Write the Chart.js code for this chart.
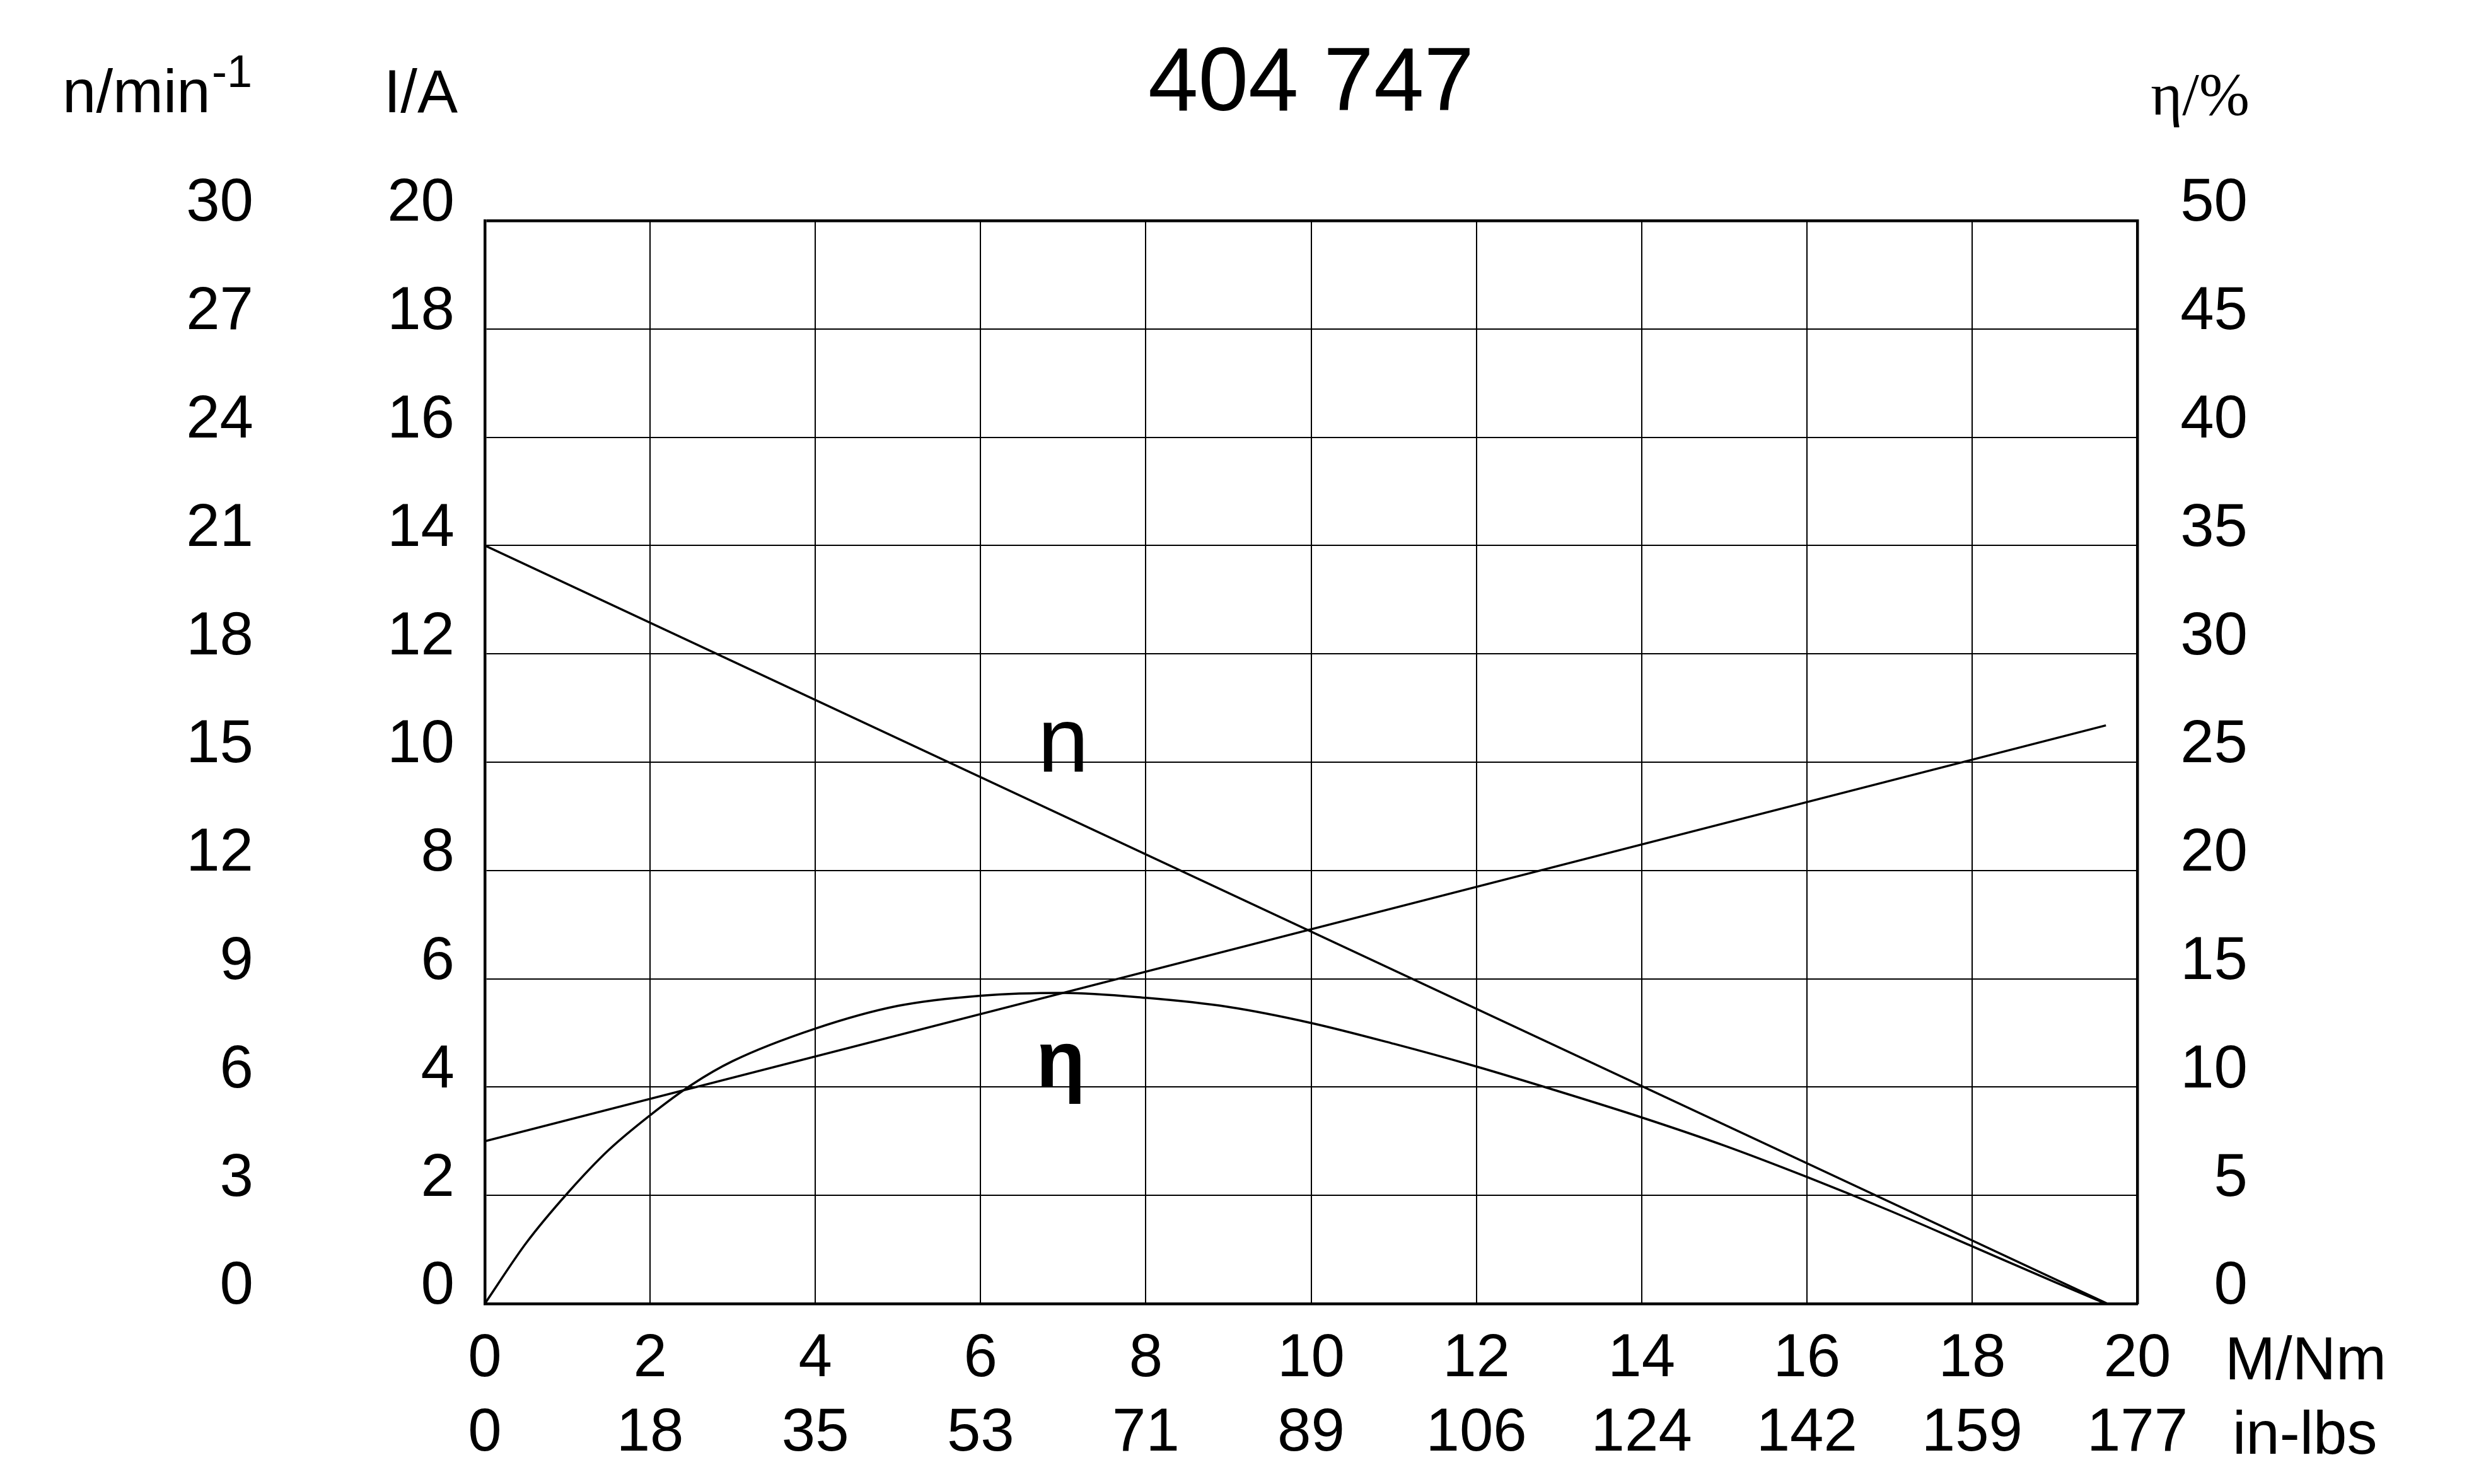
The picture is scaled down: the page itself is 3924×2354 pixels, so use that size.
<!DOCTYPE html>
<html>
<head>
<meta charset="utf-8">
<script src="https://cdn.jsdelivr.net/npm/chart.js@4.4.1/dist/chart.umd.min.js"></script>
<style>
  html, body { margin: 0; padding: 0; background: #fff; }
  #wrap { width: 3924px; height: 2354px; }
</style>
</head>
<body>
<div id="wrap"><canvas id="motor"></canvas></div>
<script>
// torque in Nm
var speedTorque = [0, 19.64];
var speed = [21, 0];                 // n/min-1
var currentTorque = [0, 19.62];
var current = [3.0, 10.68];          // I/A
var etaTorque = [0, 0.5, 1, 1.5, 2, 2.5, 3, 4, 5, 6, 7, 8, 9, 10, 11, 12, 13, 14, 15, 16, 17, 18, 19, 19.62];
var eta = [0, 2.8, 5.1, 7.1, 8.7, 10.1, 11.2, 12.7, 13.75, 14.22, 14.35, 14.12, 13.7, 12.96, 12.0, 10.95, 9.8, 8.6, 7.3, 5.85, 4.3, 2.65, 1.0, 0];
var nmTicks = ['0', '2', '4', '6', '8', '10', '12', '14', '16', '18', '20'];
var inLbsTicks = ['0', '18', '35', '53', '71', '89', '106', '124', '142', '159', '177'];

function pts(xs, ys) {
    return xs.map(function (v, i) { return { x: v, y: ys[i] }; });
}

var FONT = "'Liberation Sans', Arial, sans-serif";
Chart.defaults.font.family = FONT;
Chart.defaults.color = '#000';

var labelsPlugin = {
    id: 'labels',
    afterDraw: function (chart) {
        var c = chart.ctx;
        var x = chart.scales.x, yI = chart.scales.yI;
        c.save();
        c.fillStyle = '#000';
        c.textBaseline = 'alphabetic';
        c.font = '96px ' + FONT;
        c.textAlign = 'left';
        c.fillText('n/min', 99, 178);
        c.font = '72px ' + FONT;
        c.fillText('-1', 336, 138);
        c.font = '96px ' + FONT;
        c.textAlign = 'right';
        c.fillText('I/A', 726, 178);
        c.textAlign = 'left';
        c.fillText('M/Nm', 3529, 2188);
        c.fillText('in-lbs', 3541, 2306);
        c.font = "96px 'Liberation Serif', 'Times New Roman', serif";
        c.textAlign = 'right';
        c.fillText('η/%', 3568, 182);
        // curve names
        c.textAlign = 'center';
        c.font = '146px ' + FONT;
        c.fillText('n', x.getPixelForValue(7.0), yI.getPixelForValue(9.83));
        c.font = 'bold 128px ' + FONT;
        c.fillText('η', x.getPixelForValue(6.97), yI.getPixelForValue(4.0));
        c.restore();
    }
};

const ctx = document.getElementById('motor');
const motor = new Chart(ctx, {
    type: 'line',
    data: {
        datasets: [{
            label: 'n',
            data: pts(speedTorque, speed),
            yAxisID: 'yN',
            borderColor: '#000',
            borderWidth: 3.5,
            pointRadius: 0
        }, {
            label: 'I',
            data: pts(currentTorque, current),
            yAxisID: 'yI',
            borderColor: '#000',
            borderWidth: 3.5,
            pointRadius: 0
        }, {
            label: 'eta',
            data: pts(etaTorque, eta),
            yAxisID: 'yE',
            borderColor: '#000',
            borderWidth: 3.5,
            pointRadius: 0,
            cubicInterpolationMode: 'monotone'
        }]
    },
    options: {
        responsive: true,
        maintainAspectRatio: false,
        devicePixelRatio: 1,
        animation: false,
        layout: { padding: { left: 0, right: 359, top: 0, bottom: 0 } },
        plugins: {
            legend: { display: false },
            tooltip: { enabled: false },
            title: {
                display: true,
                text: '404 747',
                fullSize: false,
                color: '#000',
                font: { size: 143, weight: 'normal' },
                padding: { top: 50, bottom: 128.4 }
            }
        },
        scales: {
            x: {
                type: 'linear',
                position: 'bottom',
                weight: 0,
                min: 0, max: 20,
                afterFit: function (s) { s.height = 118; },
                ticks: {
                    stepSize: 2,
                    padding: 31,
                    font: { size: 96 },
                    maxRotation: 0,
                    callback: function (v, i) { return nmTicks[i]; }
                },
                grid: { color: '#000', lineWidth: 2, drawTicks: false },
                border: { display: true, color: '#000', width: 4.5 }
            },
            x2: {
                type: 'linear',
                position: 'bottom',
                weight: 10,
                min: 0, max: 20,
                afterFit: function (s) { s.height = 168; },
                ticks: {
                    stepSize: 2,
                    padding: 31,
                    font: { size: 96 },
                    maxRotation: 0,
                    callback: function (v, i) { return inLbsTicks[i]; }
                },
                grid: { display: false, drawTicks: false },
                border: { display: false }
            },
            yN: {
                position: 'left',
                weight: 10,
                min: 0, max: 30,
                afterFit: function (s) { s.width = 450; },
                ticks: { stepSize: 3, padding: 48, labelOffset: -26, font: { size: 96 } },
                grid: { display: false, drawTicks: false },
                border: { display: false }
            },
            yI: {
                position: 'left',
                weight: 0,
                min: 0, max: 20,
                afterFit: function (s) { s.width = 319; },
                ticks: { stepSize: 2, padding: 48, labelOffset: -26, font: { size: 96 } },
                grid: {
                    color: '#000',
                    lineWidth: function (c) { return c.tick && c.tick.value === 20 ? 4.5 : 2; },
                    drawTicks: false
                },
                border: { display: true, color: '#000', width: 4.5 }
            },
            yE: {
                position: 'right',
                min: 0, max: 50,
                afterFit: function (s) { s.width = 175; },
                ticks: { stepSize: 5, crossAlign: 'far', labelOffset: -26, font: { size: 96 } },
                grid: { display: false, drawTicks: false },
                border: { display: true, color: '#000', width: 4.5 }
            }
        }
    },
    plugins: [labelsPlugin]
});
</script>
</body>
</html>
